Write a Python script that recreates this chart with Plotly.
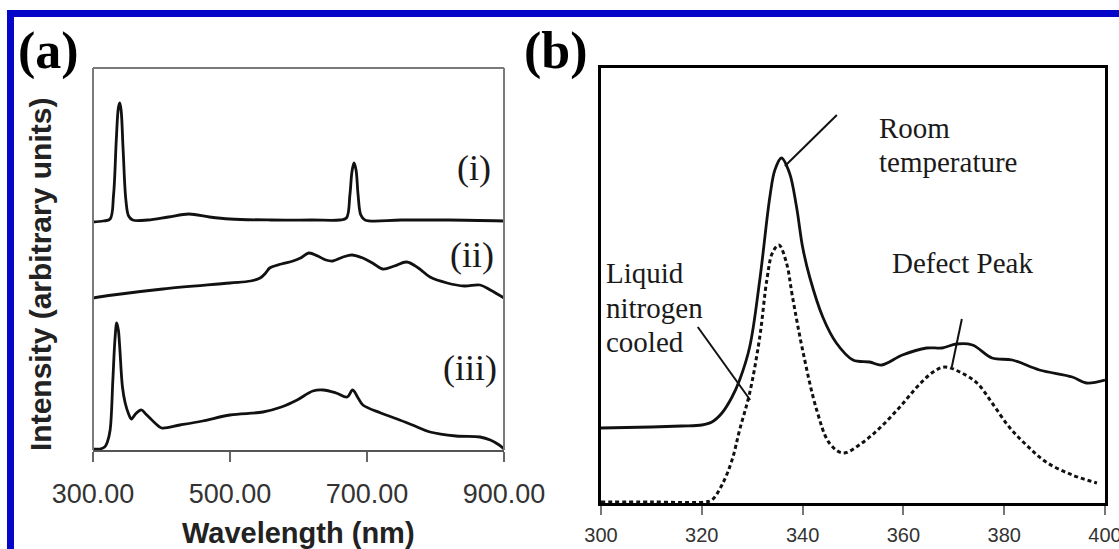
import plotly.graph_objects as go

W, H = 1119, 549

# ---------- Panel (a): wavelength (nm) and intensity (arbitrary units) ----------
wl_i = [300, 315, 325, 330, 334, 337, 339, 341, 344, 348, 352, 358, 380, 410, 440, 470, 500,
        560, 620, 660, 670, 675, 678, 681, 684, 687, 691, 697, 750, 820, 900]
int_i = [228, 229, 231, 255, 310, 342, 347, 340, 300, 250, 234, 230, 230, 233, 236, 233, 231,
         230, 230, 230, 232, 255, 278, 287, 280, 255, 235, 230, 230, 230, 229]

wl_ii = [300, 329, 402, 500, 530, 544, 552, 558, 575, 592, 603, 615, 628, 640, 650, 665, 678,
         694, 708, 723, 740, 758, 775, 792, 817, 842, 865, 880, 900]
int_ii = [152, 155, 161, 167, 169, 172, 177, 182, 186, 189, 192, 197, 194, 190, 189, 193, 195,
          192, 187, 181, 184, 188, 182, 173, 167, 164, 165, 160, 152]

wl_iii = [300, 310, 317, 321, 325, 329, 332, 334.6, 337, 339, 343, 347, 352, 356, 362, 367, 371,
          377, 383, 392, 400, 427, 460, 500, 548, 575, 598, 621, 636, 655, 671, 679, 687, 694,
          720, 744, 770, 792, 830, 865, 880, 893, 900]
int_iii = [1, 1, 3, 8, 20, 70, 110, 127, 120, 103, 63, 47, 36, 31, 36, 39, 40,
           36, 32, 26, 22, 25, 29, 35, 38, 43, 50, 59, 60, 57, 53, 60, 52, 45,
           37, 31, 24, 18, 14, 13, 10, 5, 1]

a_ticks = [300, 500, 700, 900]
a_ticktext = ["300.00", "500.00", "700.00", "900.00"]

# ---------- Panel (b) ----------
wl_rt = [300, 310, 316, 320, 322, 324, 326, 327.5, 329.5, 331.5, 333.5, 334.5, 335.8, 337.4,
         338.8, 340, 341.4, 344, 346.7, 350, 353.3, 355.7, 359.8, 364.6, 367.7, 370.5, 373.7,
         377.6, 381.6, 387, 393.5, 396.3, 400]
int_rt = [75, 76, 77, 78, 81, 90, 106, 123, 156, 223, 306, 333, 345, 330,
          296, 256, 226, 186, 160, 143, 141, 138, 148, 155, 155, 159, 158,
          145, 143, 133, 126, 120, 123]

wl_ln = [300, 310, 320.6, 322, 324, 326, 327.5, 329.5, 331.5, 332.9, 334, 335.3, 336.8, 338,
         340, 342.8, 345.3, 348, 351.5, 355.3, 359.3, 362.7, 365.9, 368.2, 371.2, 374.6, 377.6,
         381, 384.4, 388.3, 393.5, 398.4]
int_ln = [1, 1, 1, 3, 18, 43, 73, 110, 166, 223, 250, 258, 240, 206,
          153, 93, 60, 50, 59, 75, 96, 116, 131, 136, 131, 120, 100,
          76, 58, 41, 28, 20]

b_ticks = [300, 320, 340, 360, 380, 400]


def px(x):
    return x / W


def py(y):
    return 1 - y / H


fig = go.Figure()
line_a = dict(color="#111111", width=2.8)
fig.add_trace(go.Scatter(x=wl_i, y=int_i, mode="lines", line=line_a, xaxis="x", yaxis="y",
                         line_shape="spline", name="(i)"))
fig.add_trace(go.Scatter(x=wl_ii, y=int_ii, mode="lines", line=line_a, xaxis="x", yaxis="y",
                         line_shape="spline", name="(ii)"))
fig.add_trace(go.Scatter(x=wl_iii, y=int_iii, mode="lines", line=line_a, xaxis="x", yaxis="y",
                         line_shape="spline", name="(iii)"))
fig.add_trace(go.Scatter(x=wl_rt, y=int_rt, mode="lines", xaxis="x2", yaxis="y2",
                         line=dict(color="#111111", width=2.8), line_shape="spline",
                         name="Room temperature"))
fig.add_trace(go.Scatter(x=wl_ln, y=int_ln, mode="lines", xaxis="x2", yaxis="y2",
                         line=dict(color="#111111", width=3, dash="4px,3px"), line_shape="spline",
                         name="Liquid nitrogen cooled"))

tickfont_a = dict(family="Arial, Liberation Sans, sans-serif", size=27, color="#333333")
tickfont_b = dict(family="Arial, Liberation Sans, sans-serif", size=20, color="#333333")

fig.update_layout(
    width=W, height=H,
    margin=dict(l=0, r=0, t=0, b=0, autoexpand=False),
    paper_bgcolor="white", plot_bgcolor="white",
    showlegend=False,
    xaxis=dict(domain=[px(93), px(504)], range=[300, 900], tickvals=a_ticks, ticktext=a_ticktext,
               ticks="outside", ticklen=10, tickwidth=2, tickcolor="#666666",
               showline=True, linecolor="#555555", linewidth=2, showgrid=False, zeroline=False,
               tickfont=tickfont_a, ticklabelstandoff=9, anchor="y", automargin=False,
               ticklabeloverflow="allow"),
    yaxis=dict(domain=[py(450), py(68)], range=[0, 382], showticklabels=False, ticks="",
               showgrid=False, zeroline=False, showline=False, anchor="x", automargin=False),
    xaxis2=dict(domain=[px(601), px(1105)], range=[300, 400], tickvals=b_ticks,
                ticks="outside", ticklen=9, tickwidth=1.5, tickcolor="#777777",
                showline=True, linecolor="#000000", linewidth=3, mirror=True,
                showgrid=False, zeroline=False, tickfont=tickfont_b, ticklabelstandoff=3,
                anchor="y2", automargin=False, ticklabeloverflow="allow"),
    yaxis2=dict(domain=[py(503), py(68)], range=[0, 435], showticklabels=False, ticks="",
                showline=True, linecolor="#000000", linewidth=3, mirror=True,
                showgrid=False, zeroline=False, anchor="x2", automargin=False),
)

shapes = []
blue = "#0606C8"
# blue frame (top and left)
shapes.append(dict(type="rect", xref="paper", yref="paper", x0=px(7), x1=1.0,
                   y0=py(17), y1=py(10), fillcolor=blue, line=dict(width=0)))
shapes.append(dict(type="rect", xref="paper", yref="paper", x0=px(7), x1=px(14),
                   y0=0, y1=py(10), fillcolor=blue, line=dict(width=0)))
# panel (a) gray frame: top, left, right
for (x0, y0, x1, y1) in [(93, 68, 504, 68), (93, 68, 93, 450), (504, 68, 504, 450)]:
    shapes.append(dict(type="line", xref="paper", yref="paper", x0=px(x0), y0=py(y0),
                       x1=px(x1), y1=py(y1), line=dict(color="#7a7a7a", width=2)))
# leader lines in panel (b)
for (x0, y0, x1, y1) in [(336.5, 337, 346.8, 388), (319.2, 176, 329.6, 103),
                         (371.6, 184, 369.6, 136)]:
    shapes.append(dict(type="line", xref="x2", yref="y2", x0=x0, y0=y0, x1=x1, y1=y1,
                       line=dict(color="#111111", width=2)))
fig.update_layout(shapes=shapes)

serif = "Times New Roman, Liberation Serif, serif"
sans = "Arial, Liberation Sans, sans-serif"
ann = []


def add_text(text, x, y, size, family=serif, bold=False, xanchor="center", angle=0,
             color="#1a1a1a"):
    t = f"<b>{text}</b>" if bold else text
    ann.append(dict(text=t, x=px(x), y=py(y), xref="paper", yref="paper", showarrow=False,
                    xanchor=xanchor, yanchor="middle", textangle=angle,
                    font=dict(family=family, size=size, color=color)))


add_text("(a)", 49, 51, 52, bold=True, color="#000000")
add_text("(b)", 556, 51, 52, bold=True, color="#000000")
add_text("(i)", 474, 168, 36)
add_text("(ii)", 472, 255, 36)
add_text("(iii)", 470, 368, 36)
add_text("Wavelength (nm)", 299, 533, 29, family=sans, bold=True, color="#222222")
add_text("Intensity (arbitrary units)", 40, 275, 30, family=sans, bold=True, angle=-90,
         color="#222222")
add_text("Room", 877, 128, 29, xanchor="left")
add_text("temperature", 877, 162, 29, xanchor="left")
add_text("Defect Peak", 890, 263, 29, xanchor="left")
add_text("Liquid", 604, 273, 29, xanchor="left")
add_text("nitrogen", 604, 308, 29, xanchor="left")
add_text("cooled", 604, 342, 29, xanchor="left")
fig.update_layout(annotations=ann)

fig.write_html("out.html")
